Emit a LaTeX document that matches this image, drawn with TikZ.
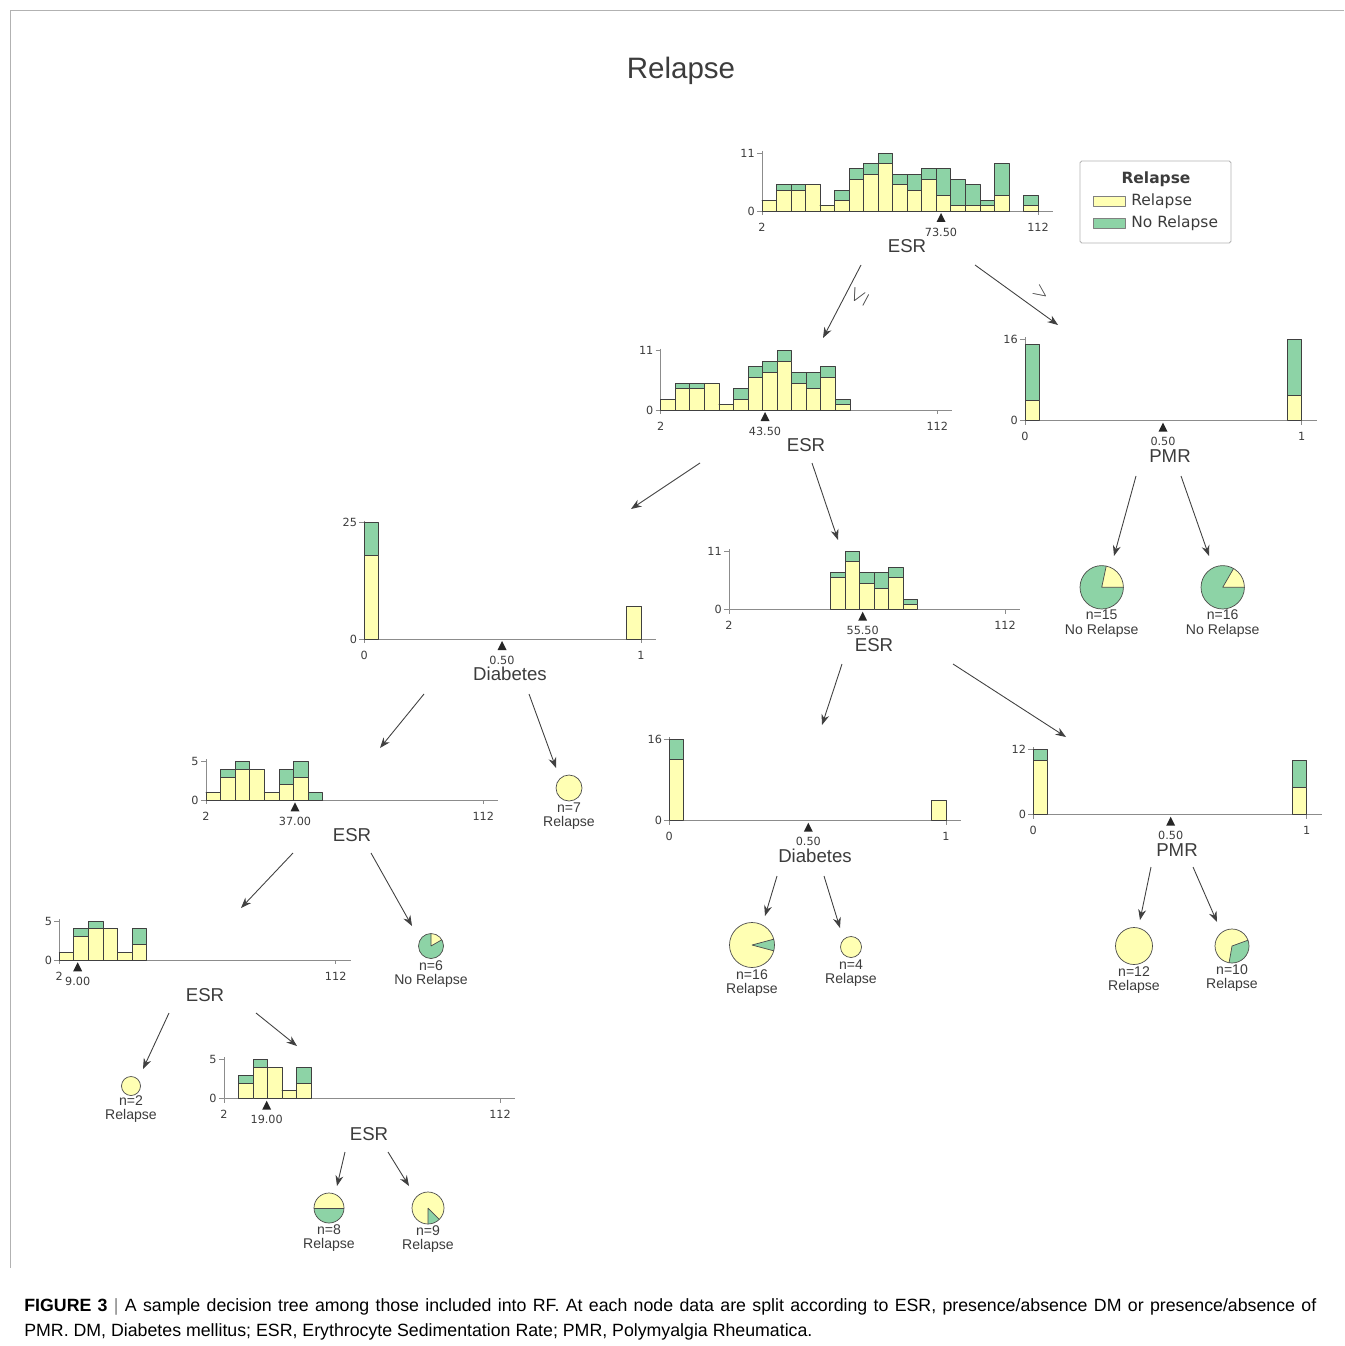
\documentclass[tikz,border=0pt]{standalone}
\usepackage{fontspec}
\setmainfont{Liberation Sans}
\newfontfamily\dejavu{DejaVu Sans}
\usetikzlibrary{arrows.meta}
\definecolor{relyellow}{RGB}{255,255,179}
\definecolor{relgreen}{RGB}{141,211,166}
\definecolor{inkgray}{RGB}{60,60,60}
\tikzset{
  yel/.style={fill=relyellow, draw=black!75, line width=0.45pt},
  grn/.style={fill=relgreen, draw=black!75, line width=0.45pt},
  ax/.style={draw=black!45, line width=0.5pt},
  tick/.style={font=\dejavu\fontsize{6.4}{7}\selectfont, text=inkgray, inner sep=0pt},
  feat/.style={font=\fontsize{10.6}{12}\selectfont, text=inkgray, inner sep=0pt},
  leaf/.style={font=\fontsize{8}{8.3}\selectfont, text=inkgray, align=center, inner sep=0pt, anchor=north},
  pieline/.style={draw=black!70, line width=0.4pt},
  edge/.style={-{Stealth[length=6pt,width=4.5pt]}, draw=black!75, line width=0.5pt},
  capt/.style={font=\fontsize{10.1}{12}\selectfont, inner sep=0pt, anchor=base west},
}
\begin{document}
\begin{tikzpicture}[x=0.2mm, y=-0.2mm, line join=round]
  % x0, y0, xr, ytop, ymax, bins (bin/relapse/total)
  \def\histo#1#2#3#4#5#6{%
    \foreach \i/\yv/\tv in {#6} {
      \draw[grn] ({#1+(\i-1)*(#3-#1)/19},{#2-\yv*(#2-#4)/#5}) rectangle ({#1+\i*(#3-#1)/19},{#2-\tv*(#2-#4)/#5});
      \draw[yel] ({#1+(\i-1)*(#3-#1)/19},#2) rectangle ({#1+\i*(#3-#1)/19},{#2-\yv*(#2-#4)/#5});
    }}
  % x0, y0, xr, ytop, top label, left label, right label, name
  \def\haxes#1#2#3#4#5#6#7#8{%
    \draw[ax] (#1,#4-2) -- (#1,#2) -- (#3+15,#2);
    \draw[ax] (#1-5,#4) -- (#1,#4) (#1-5,#2) -- (#1,#2) (#1,#2) -- (#1,#2+4) (#3,#2) -- (#3,#2+4);
    \node[tick, anchor=east] (#8-top) at (#1-7,#4) {#5};
    \node[tick, anchor=east] (#8-zero) at (#1-7,#2) {0};
    \node[tick] (#8-lo) at (#1,#2+16) {#6};
    \node[tick] (#8-hi) at (#3,#2+16) {#7};}
  % threshold x, y0, value, label x, feature, name
  \def\hsplit#1#2#3#4#5#6{%
    \fill[black!85] (#1,#2+2) -- (#1-4.5,#2+11) -- (#1+4.5,#2+11) -- cycle;
    \node[tick] (#6-thr) at (#1,#2+21) {#3};
    \node[feat] (#6) at (#4,#2+35) {#5};}
  % pie: centre name, radius, green from, green to (degrees, counter-clockwise)
  \def\pie#1#2#3#4{%
    \fill[relyellow] (#1) circle (#2);
    \fill[relgreen] (#1) -- ++({-1*(#3)}:#2) arc ({-1*(#3)}:{-1*(#4)}:#2) -- cycle;
    \draw[pieline] (#1) -- ++({-1*(#3)}:#2) (#1) -- ++({-1*(#4)}:#2);
    \draw[pieline] (#1) circle (#2);}
  \useasboundingbox (0,0) rectangle (1344,1346);
  % frame
  \draw[black!30, line width=0.5pt] (10,1268) -- (10,10) -- (1344,10);
  \node[font=\fontsize{16.8}{18}\selectfont, text=inkgray] (title) at (681,71) {Relapse};

  % legend
  \draw[black!30, line width=0.5pt, rounded corners=1pt] (1080,161) rectangle (1231,243);
  \node[font=\dejavu\bfseries\fontsize{8.8}{10}\selectfont, text=inkgray] (leghead) at (1156,179) {Relapse};
  \draw[yel, draw=black!50] (1093,196) rectangle (1125,206);
  \draw[grn, draw=black!50] (1093,218) rectangle (1125,228);
  \node[font=\dejavu\fontsize{8.8}{10}\selectfont, text=inkgray, anchor=west, inner sep=0pt] (legrel) at (1131,201) {Relapse};
  \node[font=\dejavu\fontsize{8.8}{10}\selectfont, text=inkgray, anchor=west, inner sep=0pt] (legno) at (1131,223) {No Relapse};

  % root: ESR 73.50
  \haxes{762}{211}{1038}{153}{11}{2}{112}{h1}
  \histo{762}{211}{1038}{153}{11}{1/2/2,2/4/5,3/4/5,4/5/5,5/1/1,6/2/4,7/6/8,8/7/9,9/9/11,10/5/7,11/4/7,12/6/8,13/3/8,14/1/6,15/1/5,16/1/2,17/3/9,19/1/3}
  \hsplit{941}{211}{73.50}{907}{ESR}{esr1}

  % ESR 43.50
  \haxes{660.7}{410}{937.3}{350.7}{11}{2}{112}{h2}
  \histo{660.7}{410}{937.3}{350.7}{11}{1/2/2,2/4/5,3/4/5,4/5/5,5/1/1,6/2/4,7/6/8,8/7/9,9/9/11,10/5/7,11/4/7,12/6/8,13/1/2}
  \hsplit{765}{410}{43.50}{806}{ESR}{esr2}

  % PMR (top right)
  \haxes{1025}{420.7}{1301.7}{339.3}{16}{0}{1}{h3}
  \histo{1025}{420.7}{1301.7}{339.3}{16}{1/4/15,19/5/16}
  \hsplit{1163}{420.7}{0.50}{1170}{PMR}{pmr1}

  % Diabetes (left)
  \haxes{364.3}{639}{641}{522.7}{25}{0}{1}{h4}
  \histo{364.3}{639}{641}{522.7}{25}{1/18/25,19/7/7}
  \hsplit{502}{639}{0.50}{510}{Diabetes}{dia1}

  % ESR 55.50
  \haxes{729}{609.7}{1005}{551}{11}{2}{112}{h5}
  \histo{729}{609.7}{1005}{551}{11}{8/6/7,9/9/11,10/5/7,11/4/7,12/6/8,13/1/2}
  \hsplit{862.7}{609.7}{55.50}{874}{ESR}{esr3}

  % ESR 37.00
  \haxes{206}{800.3}{483.3}{761.3}{5}{2}{112}{h6}
  \histo{206}{800.3}{483.3}{761.3}{5}{1/1/1,2/3/4,3/4/5,4/4/4,5/1/1,6/2/4,7/3/5,8/0/1}
  \hsplit{295}{800.3}{37.00}{352}{ESR}{esr4}

  % ESR 9.00
  \haxes{59.3}{960.3}{335.7}{921}{5}{2}{112}{h7}
  \histo{59.3}{960.3}{335.7}{921}{5}{1/1/1,2/3/4,3/4/5,4/4/4,5/1/1,6/2/4}
  \hsplit{77.7}{960.3}{9.00}{205}{ESR}{esr5}

  % ESR 19.00
  \haxes{224}{1098.7}{500}{1059.3}{5}{2}{112}{h8}
  \histo{224}{1098.7}{500}{1059.3}{5}{2/2/3,3/4/5,4/4/4,5/1/1,6/2/4}
  \hsplit{266.7}{1098.7}{19.00}{369}{ESR}{esr6}

  % Diabetes (middle)
  \haxes{669.3}{820.7}{946}{739.3}{16}{0}{1}{h9}
  \histo{669.3}{820.7}{946}{739.3}{16}{1/12/16,19/4/4}
  \hsplit{808.3}{820.7}{0.50}{815}{Diabetes}{dia2}

  % PMR (lower right)
  \haxes{1033.3}{814.7}{1306.7}{749.3}{12}{0}{1}{h10}
  \histo{1033.3}{814.7}{1306.7}{749.3}{12}{1/10/12,19/5/10}
  \hsplit{1170.7}{814.7}{0.50}{1177}{PMR}{pmr2}

  % leaves
  \foreach \n/\cx/\cy/\r/\ga/\gb in {
      p15/1101.7/587.3/21.7/78/360,
      p16/1222.7/587.3/21.7/60/360,
      p7/569/788/13/0/0,
      p6/431/946/12.5/90/390,
      p16b/752/945/22.5/-15/15,
      p4/851/947/10.5/0/0,
      p12/1134/946/18.5/0/0,
      p10/1232/946/17/-100/20,
      p2/131/1086/9.5/0/0,
      p8/329/1208/15/180/360,
      p9/428/1208/16/-90/-45} {
    \coordinate (\n) at (\cx,\cy);
    \pgfmathsetmacro\sz{\gb-\ga}
    \ifdim\sz pt>0pt \pie{\n}{\r}{\ga}{\gb}
    \else \fill[relyellow] (\n) circle (\r); \draw[pieline] (\n) circle (\r); \fi
  }
  \node[leaf] (t15) at (1101.7,609.5) {n=15\\No Relapse};
  \node[leaf] (t16) at (1222.7,609.5) {n=16\\No Relapse};
  \node[leaf] (t7) at (569,802) {n=7\\Relapse};
  \node[leaf] (t6) at (431,960) {n=6\\No Relapse};
  \node[leaf] (t16b) at (752,969) {n=16\\Relapse};
  \node[leaf] (t4) at (851,959) {n=4\\Relapse};
  \node[leaf] (t12) at (1134,966) {n=12\\Relapse};
  \node[leaf] (t10) at (1232,964) {n=10\\Relapse};
  \node[leaf] (t2) at (131,1095) {n=2\\Relapse};
  \node[leaf] (t8) at (329,1224) {n=8\\Relapse};
  \node[leaf] (t9) at (428,1225) {n=9\\Relapse};

  % connectors
  \foreach \k/\xa/\ya/\xb/\yb in {1/861/265/823/338, 2/975/265/1058/325, 3/700/463/631/509,
      4/812/463/838/540, 5/1136/476/1114/556, 6/1181/476/1209/556, 7/424/694/380/748,
      8/529/694/556/768, 9/842/664/822/725, 10/953/664/1066/737, 11/293/853/241/908,
      12/371/853/412/926, 13/777/876/765/916, 14/824/876/840/928, 15/1151/867/1140/920,
      16/1193/867/1217/922, 17/169/1013/143/1069, 18/256/1013/297/1046,
      19/345/1152/337/1186, 20/388/1152/409/1186} {
    \coordinate (s\k) at (\xa,\ya);
    \coordinate (e\k) at (\xb,\yb);
    \draw[edge] (s\k) -- (e\k);
  }
  \node[font=\fontsize{13}{14}\selectfont, text=inkgray, rotate=62] (le) at (859,297) {$\leq$};
  \node[font=\fontsize{13}{14}\selectfont, text=inkgray, rotate=-36] (gt) at (1041,293) {$>$};

  % caption
  \node[capt] (cap1) at (24,1311) {\hbox to 258.4mm{\textbf{FIGURE 3} {\color{black!50}|} A sample decision tree among those included into RF. At each node data are split according to ESR, presence/absence DM or presence/absence of}};
  \node[capt] (cap2) at (24,1336) {PMR. DM, Diabetes mellitus; ESR, Erythrocyte Sedimentation Rate; PMR, Polymyalgia Rheumatica.};
\end{tikzpicture}
\end{document}
